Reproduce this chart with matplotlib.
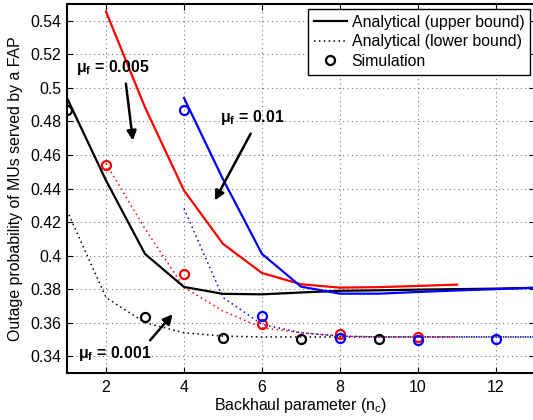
import matplotlib
matplotlib.use("Agg")
import matplotlib.pyplot as plt
from matplotlib.lines import Line2D
from matplotlib.ticker import FuncFormatter

# ---- data -----------------------------------------------------------------
# Backhaul parameter values for each curve
nc_black = [1, 2, 3, 4, 5, 6, 7, 8, 9, 10, 11, 12, 13]
nc_red = [2, 3, 4, 5, 6, 7, 8, 9, 10, 11]
nc_blue = [4, 5, 6, 7, 8, 9, 10, 11, 12, 13]

# Analytical upper bound
upper_black = [0.494, 0.4448, 0.401, 0.3813, 0.3772, 0.3769, 0.3780, 0.3790,
               0.3793, 0.3797, 0.3800, 0.3803, 0.3808]
upper_red = [0.5455, 0.4884, 0.4388, 0.407, 0.3896, 0.3829, 0.3809, 0.3812,
             0.3819, 0.3827]
upper_blue = [0.494, 0.4455, 0.401, 0.3815, 0.3773, 0.3773, 0.3783, 0.3792,
              0.3800, 0.3808]

# Analytical lower bound
lower_black = [0.427, 0.375, 0.360, 0.354, 0.352, 0.3515, 0.3515, 0.3515,
               0.3515, 0.3515, 0.3515, 0.3515, 0.3515]
lower_red = [0.455, 0.416, 0.381, 0.367, 0.357, 0.354, 0.352, 0.3515,
             0.3515, 0.3515]
lower_blue = [0.428, 0.375, 0.359, 0.354, 0.352, 0.3515, 0.3515, 0.3515,
              0.3515, 0.3515]

# Simulation results
sim_nc_black = [1, 3, 5, 7, 9]
sim_black = [0.4868, 0.3634, 0.3509, 0.350, 0.350]
sim_nc_red = [2, 4, 6, 8, 10]
sim_red = [0.4543, 0.3888, 0.3595, 0.3535, 0.3515]
sim_nc_blue = [4, 6, 8, 10, 12]
sim_blue = [0.4868, 0.3638, 0.3509, 0.3495, 0.350]

x_ticks = [2, 4, 6, 8, 10, 12]
y_ticks = [0.34, 0.36, 0.38, 0.40, 0.42, 0.44, 0.46, 0.48, 0.50, 0.52, 0.54]

# ---- style ----------------------------------------------------------------
FS = 11.4
plt.rcParams.update({
    "font.family": ["Liberation Sans", "DejaVu Sans"],
    "font.size": FS,
    "mathtext.fontset": "custom",
    "mathtext.rm": "Liberation Sans",
    "mathtext.it": "Liberation Sans:italic",
    "mathtext.bf": "Liberation Sans:bold",
    "mathtext.default": "regular",
})

W, H = 533, 420
fig = plt.figure(figsize=(W / 100, H / 100), dpi=100)
ax = fig.add_axes([67 / W, (H - 373) / H, 468 / W, 369 / H])

dot = (0, (1, 2.2))
solid_lw = 1.6
dot_lw = 1.1

# lower bounds
ax.plot(nc_black, lower_black, color="k", ls=dot, lw=dot_lw)
ax.plot(nc_red, lower_red, color="#ff0000", ls=dot, lw=dot_lw)
ax.plot(nc_blue, lower_blue, color="#0000ff", ls=dot, lw=dot_lw)

# upper bounds
ax.plot(nc_black, upper_black, color="k", lw=solid_lw)
ax.plot(nc_red, upper_red, color="#ff0000", lw=solid_lw)
ax.plot(nc_blue, upper_blue, color="#0000ff", lw=solid_lw)

# simulations
mk = dict(marker="o", ls="none", ms=6.5, mfc="none", mew=1.6)
ax.plot(sim_nc_black, sim_black, mec="k", **mk)
ax.plot(sim_nc_red, sim_red, mec="#ff0000", **mk)
ax.plot(sim_nc_blue, sim_blue, mec="#0000ff", **mk)

ax.set_xlim(1, 13)
ax.set_ylim(0.33, 0.55)
ax.set_xticks(x_ticks)
ax.set_yticks(y_ticks)
ax.yaxis.set_major_formatter(FuncFormatter(lambda v, p: f"{v:g}"))
ax.tick_params(direction="in", length=4, width=0.8, top=True, right=True,
               labelsize=FS)
ax.tick_params(axis="x", pad=5)
ax.tick_params(axis="y", pad=4)
for s in ax.spines.values():
    s.set_linewidth(1.5)

ax.grid(True, color="#777777", ls=(0, (1, 3)), lw=0.8)
ax.set_axisbelow(True)

ax.set_xlabel(r"Backhaul parameter ($n_c$)", labelpad=1)
ax.set_ylabel("Outage probability of MUs served by a FAP", labelpad=5)

# annotations
arrow = dict(arrowstyle="-|>", color="k", lw=1.8, mutation_scale=14,
             shrinkA=0, shrinkB=0)
ax.annotate("", xy=(2.69, 0.4686), xytext=(2.51, 0.5025), arrowprops=arrow)
ax.text(1.23, 0.512, r"$\mu_\mathbf{f}$ = 0.005", fontweight="bold",
        va="center", ha="left")
ax.annotate("", xy=(4.79, 0.4329), xytext=(5.71, 0.4727), arrowprops=arrow)
ax.text(4.92, 0.4823, r"$\mu_\mathbf{f}$ = 0.01", fontweight="bold",
        va="center", ha="left")
ax.annotate("", xy=(3.71, 0.365), xytext=(3.13, 0.3495), arrowprops=arrow)
ax.text(1.28, 0.3418, r"$\mu_\mathbf{f}$ = 0.001", fontweight="bold",
        va="center", ha="left")

# legend
handles = [
    Line2D([], [], color="k", lw=solid_lw),
    Line2D([], [], color="k", ls=dot, lw=dot_lw),
    Line2D([], [], color="k", marker="o", ls="none", ms=6.5, mfc="none", mew=1.6),
]
labels = ["Analytical (upper bound)", "Analytical (lower bound)", "Simulation"]
leg = ax.legend(handles, labels, loc="upper right",
                bbox_to_anchor=((530 - 67) / 468, (373 - 9) / 369),
                borderaxespad=0, frameon=True, fancybox=False,
                edgecolor="k", framealpha=1, handlelength=2.1,
                handletextpad=0.3, labelspacing=0.3, borderpad=0.35,
                fontsize=FS)
leg.get_frame().set_linewidth(1.0)

fig.savefig("out.png", dpi=100)
